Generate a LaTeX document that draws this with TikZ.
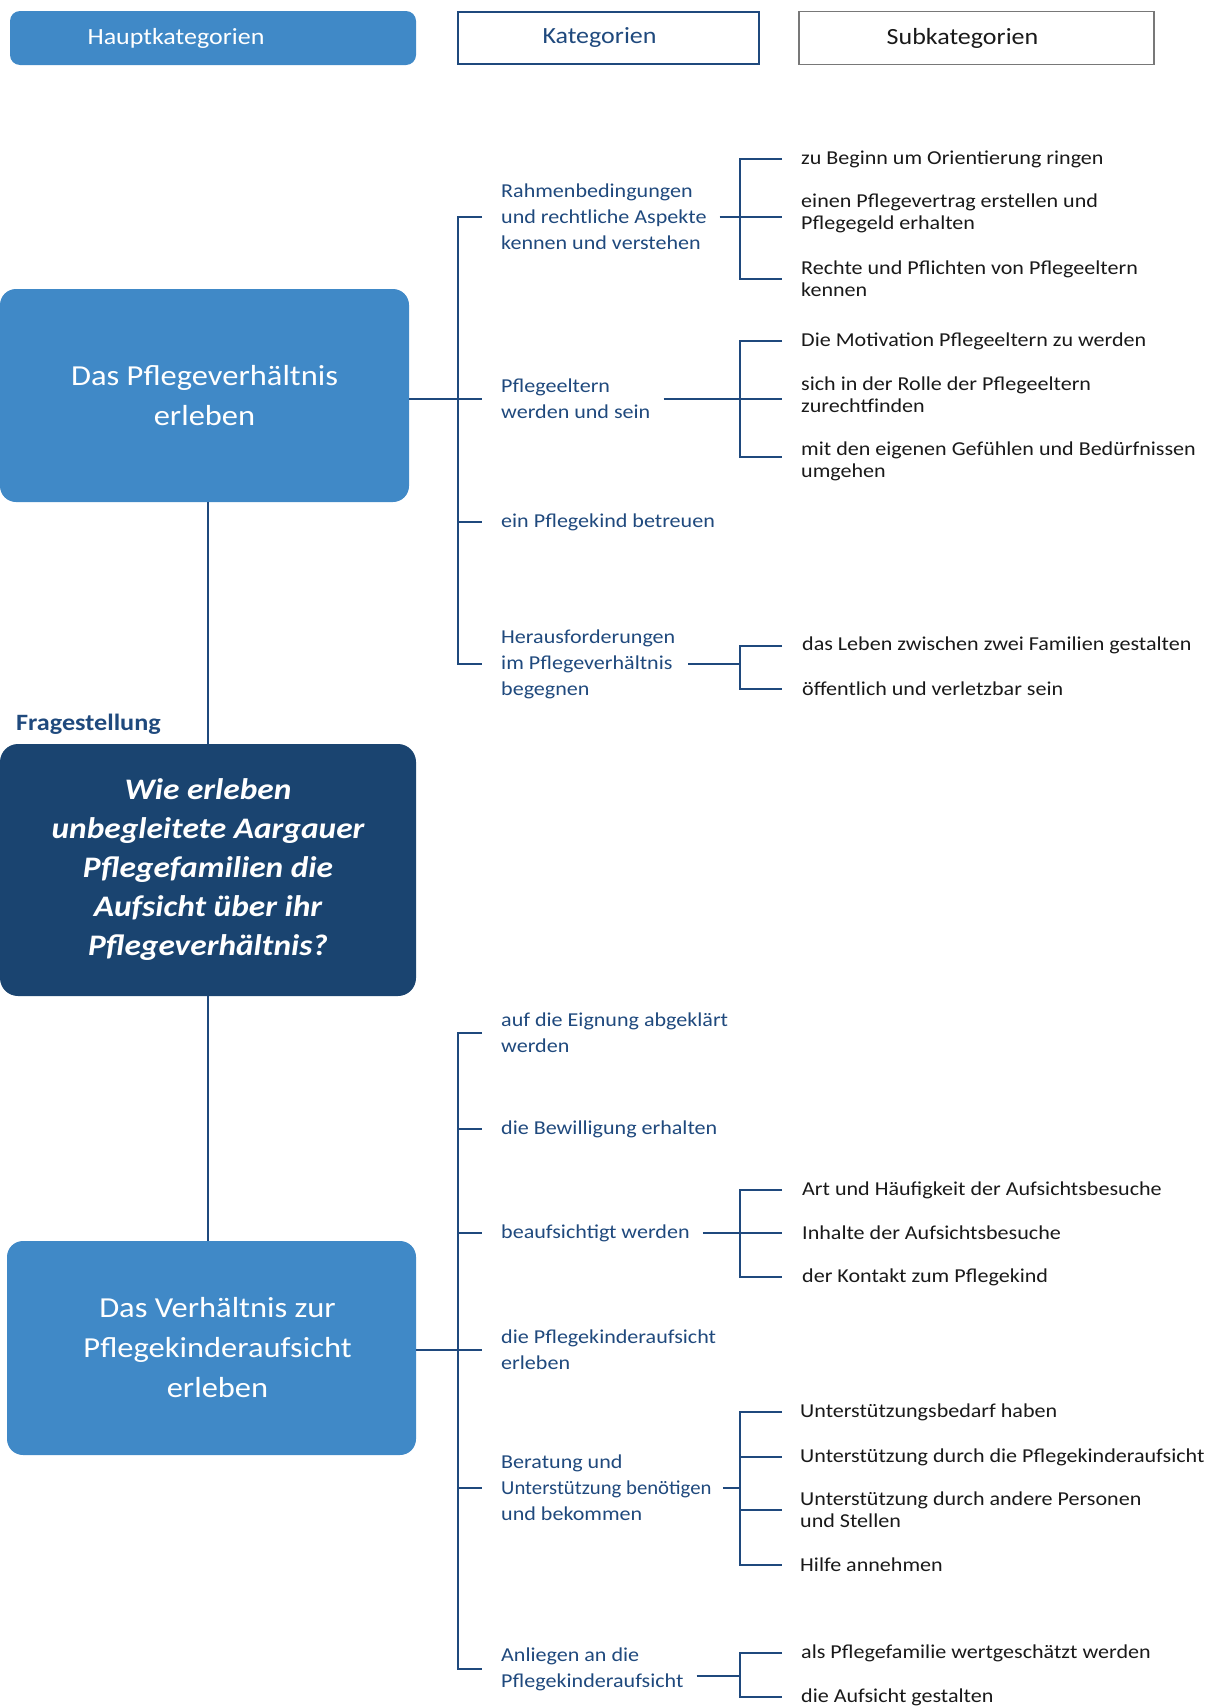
\documentclass[tikz,border=0pt]{standalone}
\usepackage{fontspec}
\setmainfont{Carlito}[FakeStretch=1.12]
\definecolor{midblue}{RGB}{64,137,199}
\definecolor{navy}{RGB}{26,68,112}
\definecolor{lineblue}{RGB}{31,73,125}
\definecolor{subgray}{RGB}{120,120,120}
\definecolor{subtext}{RGB}{25,25,25}
\begin{document}
\begin{tikzpicture}[x=1pt,y=-1pt,
  ln/.style={draw=lineblue,line width=2pt},
  cat/.style={anchor=west,inner sep=0pt,align=left,text=lineblue,font=\fontsize{19.7}{26}\selectfont},
  sub/.style={anchor=west,inner sep=0pt,align=left,text=subtext,font=\fontsize{19.7}{22}\selectfont},
  mainbox/.style={fill=midblue,rounded corners=16pt,text=white,align=center,inner sep=0pt,font=\fontsize{29}{40}\selectfont},
  hdr/.style={inner sep=0pt,font=\fontsize{23.2}{26}\selectfont}
]
\useasboundingbox (0,0) rectangle (1213,1708);
% header
\node[hdr,fill=midblue,rounded corners=10pt,text=white,minimum width=406pt,minimum height=54pt] (h1) at (213,38) {Hauptkategorien\hspace*{74pt}};
\node[hdr,draw=lineblue,line width=2.5pt,text=lineblue,minimum width=301pt,minimum height=52pt] (h2) at (608.5,38) {Kategorien\hspace*{18pt}};
\node[hdr,draw=subgray,line width=1.2pt,text=subtext,minimum width=355pt,minimum height=53pt] (h3) at (976.5,38) {Subkategorien\hspace*{28pt}};
% main boxes
\node[mainbox,minimum width=409pt,minimum height=213pt] (b1) at (204.5,395.5) {Das Pflegeverhältnis\\erleben};
\node[anchor=west,inner sep=0pt,text=lineblue,font=\fontsize{23.4}{26}\selectfont\bfseries] (fs) at (16,724) {Fragestellung};
\node[mainbox,fill=navy,rounded corners=18pt,minimum width=416pt,minimum height=252pt,font=\fontsize{29.8}{39}\selectfont\bfseries\itshape] (b2) at (208,870) {Wie erleben\\unbegleitete Aargauer\\Pflegefamilien die\\Aufsicht über ihr\\Pflegeverhältnis?};
\node[mainbox,minimum width=409pt,minimum height=214pt] (b3) at (211.5,1348) {\hspace*{12pt}Das Verhältnis zur\\\hspace*{12pt}Pflegekinderaufsicht\\\hspace*{12pt}erleben};
\draw[ln] (b2.north) -- (b2.north |- b1.south);
\draw[ln] (b2.south) -- (b2.south |- b3.north);
% helper x coordinates
\coordinate (mb) at (458,0);
\coordinate (mx) at (482,0);
\coordinate (bx) at (740,0);
\coordinate (tx) at (782,0);
% categories top
\node[cat] (c1) at (501,216.5) {Rahmenbedingungen\\und rechtliche Aspekte\\kennen und verstehen};
\node[cat] (c2) at (501,398.5) {Pflegeeltern\\werden und sein};
\node[cat] (c3) at (501,522) {ein Pflegekind betreuen};
\node[cat] (c4) at (501,664) {Herausforderungen\\im Pflegeverhältnis\\begegnen};
\draw[ln] (c1.west -| mx) -| (c4.west -| mb) -- (c4.west -| mx);
\draw[ln] (c3.west -| mb) -- (c3.west -| mx);
\draw[ln] (b1.east |- c2.west) -- (c2.west -| mx);
% subcategories group 1
\node[sub] (s11) at (801,159) {zu Beginn um Orientierung ringen};
\node[sub] (s12) at (801,213) {einen Pflegevertrag erstellen und\\Pflegegeld erhalten};
\node[sub] (s13) at (801,279) {Rechte und Pflichten von Pflegeeltern\\kennen};
\draw[ln] (s11.west -| tx) -| (s13.west -| bx) -- (s13.west -| tx);
\draw[ln] ([xshift=13pt]c1.east) -- (c1.east -| tx);
% group 2
\node[sub] (s21) at (801,341) {Die Motivation Pflegeeltern zu werden};
\node[sub] (s22) at (801,395) {sich in der Rolle der Pflegeeltern\\zurechtfinden};
\node[sub] (s23) at (801,461) {mit den eigenen Gefühlen und Bedürfnissen\\umgehen};
\coordinate (j23) at (740,457);
\draw[ln] (s21.west -| tx) -| (j23) -- (j23 -| tx);
\draw[ln] ([xshift=13pt]c2.east |- c2.west) -- (c2.west -| tx);
% group 4
\node[sub] (s41) at (802,645.5) {das Leben zwischen zwei Familien gestalten};
\node[sub] (s42) at (802,689) {öffentlich und verletzbar sein};
\draw[ln] (s41.west -| tx) -| (s42.west -| bx) -- (s42.west -| tx);
\draw[ln] ([xshift=13pt]c4.east) -- (c4.east -| bx);
% categories bottom
\node[cat] (c5) at (501,1033) {auf die Eignung abgeklärt\\werden};
\node[cat] (c6) at (501,1129) {die Bewilligung erhalten};
\node[cat] (c7) at (501,1233) {beaufsichtigt werden};
\node[cat] (c8) at (501,1350) {die Pflegekinderaufsicht\\erleben};
\node[cat] (c9) at (501,1487.5) {Beratung und\\\scalebox{0.94}[1]{Unterstützung benötigen}\\und bekommen};
\node[cat] (c10) at (501,1669) {Anliegen an die\\Pflegekinderaufsicht};
\draw[ln] (c5.west -| mx) -| (c10.west -| mb) -- (c10.west -| mx);
\foreach \c in {c6,c7,c9} {\draw[ln] (\c.west -| mb) -- (\c.west -| mx);}
\draw[ln] (b3.east |- c8.west) -- (c8.west -| mx);
% group 7
\node[sub] (s71) at (802,1190) {Art und Häufigkeit der Aufsichtsbesuche};
\node[sub] (s72) at (802,1233) {Inhalte der Aufsichtsbesuche};
\node[sub] (s73) at (802,1277) {der Kontakt zum Pflegekind};
\draw[ln] (s71.west -| tx) -| (s73.west -| bx) -- (s73.west -| tx);
\draw[ln] ([xshift=13pt]c7.east) -- (c7.east -| tx);
% group 9
\node[sub] (s91) at (800,1412) {Unterstützungsbedarf haben};
\node[sub] (s92) at (800,1457) {Unterstützung durch die Pflegekinderaufsicht};
\node[sub] (s93) at (800,1510) {Unterstützung durch andere Personen\\und Stellen};
\node[sub] (s94) at (800,1565) {Hilfe annehmen};
\draw[ln] (s91.west -| tx) -| (s94.west -| bx) -- (s94.west -| tx);
\draw[ln] (s92.west -| bx) -- (s92.west -| tx);
\draw[ln] (s93.west -| bx) -- (s93.west -| tx);
\draw[ln] ([xshift=11pt]c9.east) -- (c9.east -| bx);
% group 10
\node[sub] (s101) at (801,1653) {als Pflegefamilie wertgeschätzt werden};
\node[sub] (s102) at (801,1697) {die Aufsicht gestalten};
\draw[ln] (s101.west -| tx) -| (s102.west -| bx) -- (s102.west -| tx);
\draw[ln] ([xshift=13pt,yshift=-7pt]c10.east) -- ([yshift=-7pt]c10.east -| bx);
\end{tikzpicture}
\end{document}
